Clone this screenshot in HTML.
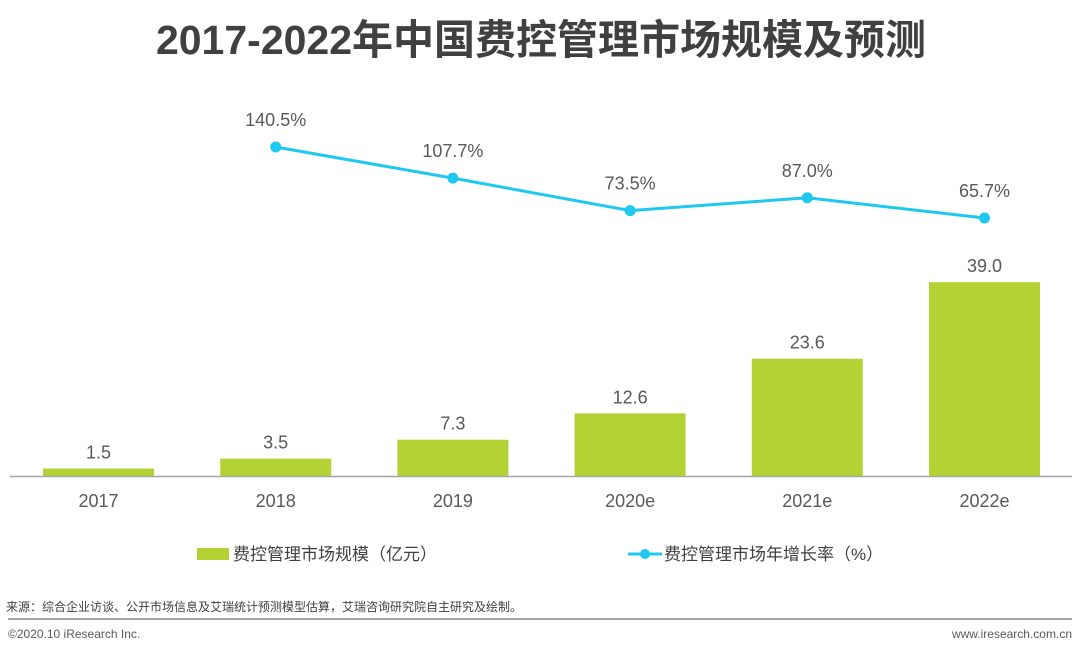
<!DOCTYPE html>
<html><head><meta charset="utf-8">
<style>
body{margin:0;background:#fff;}
svg{display:block;font-family:"Liberation Sans","Noto Sans CJK SC",sans-serif;}
</style></head>
<body>
<svg id="chart" width="1080" height="654" viewBox="0 0 1080 654">
<text x="541" y="54" text-anchor="middle" font-size="41" font-weight="bold" fill="#404040">2017-2022年中国费控管理市场规模及预测</text>
<g id="bars"></g>
<line x1="10" y1="476.5" x2="1072" y2="476.5" stroke="#a6a6a6" stroke-width="1.5"/>
<g id="xlabels"></g>
<g id="line"></g>
<g>
<g>
<rect x="197" y="548" width="32" height="12" fill="#b3d234"/>
<text x="233" y="560" font-size="17" fill="#404040">费控管理市场规模（亿元）</text>
</g>
<g>
<line x1="628" y1="554" x2="662" y2="554" stroke="#1ec8f0" stroke-width="3"/>
<circle cx="645" cy="554" r="5" fill="#1ec8f0"/>
<text x="664" y="560" font-size="17" fill="#404040">费控管理市场年增长率（%）</text>
</g>
</g>
<text x="6" y="611" font-size="12" fill="#404040">来源：综合企业访谈、公开市场信息及艾瑞统计预测模型估算，艾瑞咨询研究院自主研究及绘制。</text>
<line x1="8" y1="619" x2="1072" y2="619" stroke="#a6a6a6" stroke-width="2"/>
<text x="8" y="638" font-size="12" fill="#595959">©2020.10 iResearch Inc.</text>
<text x="1072" y="638" font-size="12" fill="#595959" text-anchor="end">www.iresearch.com.cn</text>
</svg>
<script>
const categories = ["2017","2018","2019","2020e","2021e","2022e"];
const marketSize = [1.5,3.5,7.3,12.6,23.6,39.0];
const growthRate = [null,140.5,107.7,73.5,87.0,65.7];
const NS="http://www.w3.org/2000/svg";
function xPos(i){return 98.5+i*177.2;}
function yBar(v){return 476-v*4.97;}
function yLine(v){return 147+(140.5-v)*0.949;}
function mk(tag,attrs,parent){const e=document.createElementNS(NS,tag);for(const k in attrs)e.setAttribute(k,attrs[k]);parent.appendChild(e);return e;}
const bars=document.getElementById('bars'),xl=document.getElementById('xlabels'),ln=document.getElementById('line');
categories.forEach((c,i)=>{
  const v=marketSize[i],x=xPos(i),y=yBar(v);
  const r=mk('rect',{x:x-55.5,y:y,width:111,height:476-y,fill:'#b3d234'},bars);
  
  
  const t=mk('text',{x:x,y:y-10,'text-anchor':'middle','font-size':18,fill:'#595959'},bars);
  t.textContent=v.toFixed(1);
  
  
  const xt=mk('text',{x:x,y:507,'text-anchor':'middle','font-size':18,fill:'#595959'},xl);
  xt.textContent=c;
  
  
});
const pts=[];
growthRate.forEach((v,i)=>{if(v!==null)pts.push([xPos(i),yLine(v),v,categories[i]]);});
const pl=mk('polyline',{points:pts.map(p=>p[0]+','+p[1]).join(' '),fill:'none',stroke:'#1ec8f0','stroke-width':3},ln);


pts.forEach(p=>{
  const c=mk('circle',{cx:p[0],cy:p[1],r:5.5,fill:'#1ec8f0'},ln);
  
  
  const t=mk('text',{x:p[0],y:p[1]-21,'text-anchor':'middle','font-size':18,fill:'#595959'},ln);
  t.textContent=p[2].toFixed(1)+'%';
  
  
});
</script>
</body></html>
